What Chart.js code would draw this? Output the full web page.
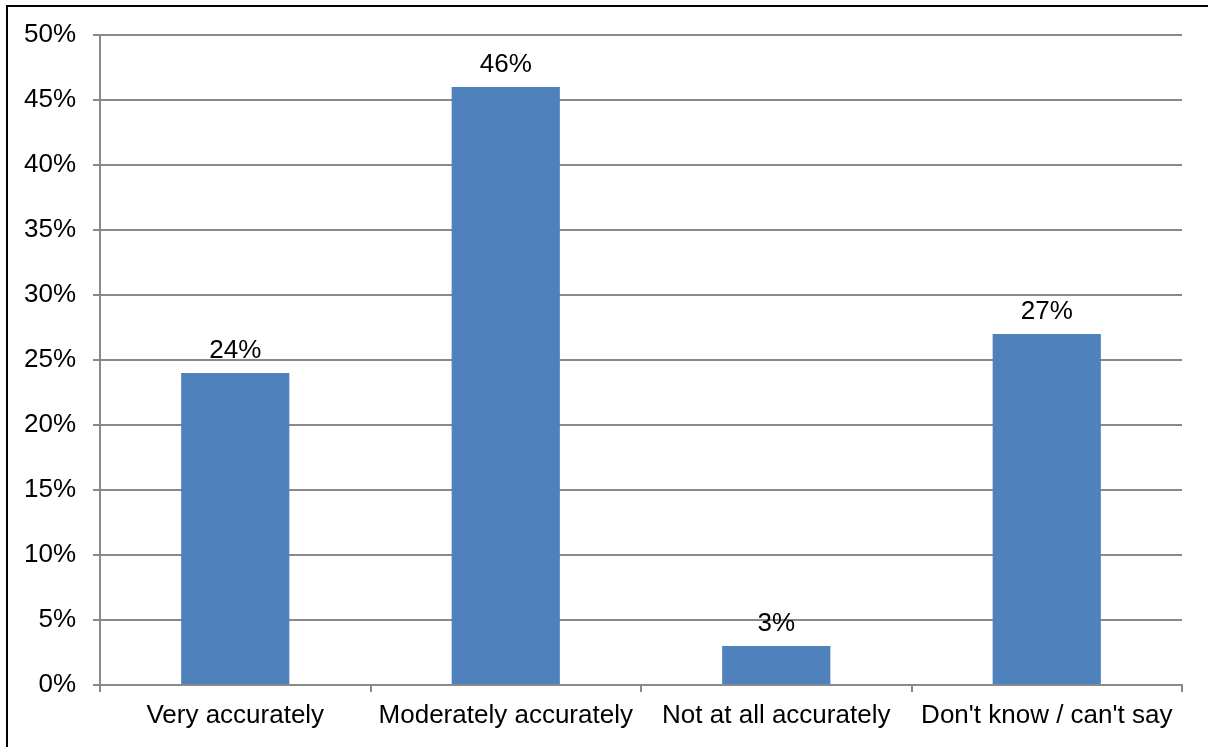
<!DOCTYPE html>
<html>
<head>
<meta charset="utf-8">
<script src="https://cdn.jsdelivr.net/npm/chart.js@4/dist/chart.umd.min.js"></script>
<style>
  html, body { margin: 0; padding: 0; background: #fff; overflow: hidden; }
  #wrap { position: relative; width: 1208px; height: 747px; }
  #frame {
    position: absolute; left: 6px; top: 5px; width: 1300px; height: 900px;
    border-left: 2px solid #000; border-top: 2px solid #000; pointer-events: none;
  }
  canvas { position: absolute; left: 0; top: 0; }
</style>
</head>
<body>
<div id="wrap">
  <canvas id="barChart" width="1208" height="747"></canvas>
  <div id="frame"></div>
</div>
<script>
const categories = ["Very accurately", "Moderately accurately", "Not at all accurately", "Don't know / can't say"];
const values = [24, 46, 3, 27];
const tickValues = [0, 5, 10, 15, 20, 25, 30, 35, 40, 45, 50];

const FONT = "'Liberation Sans', Arial, sans-serif";
const gridGray = "#898989";

// value labels above each bar
const barLabels = {
  id: "barLabels",
  afterDatasetsDraw(chart) {
    const ctx = chart.ctx;
    const meta = chart.getDatasetMeta(0);
    ctx.save();
    ctx.font = "26px " + FONT;
    ctx.fillStyle = "#000";
    ctx.textAlign = "center";
    ctx.textBaseline = "alphabetic";
    meta.data.forEach((bar, i) => {
      ctx.fillText(values[i] + "%", bar.x, bar.y - 15);
    });
    ctx.restore();
  },
};

const ctx = document.getElementById("barChart").getContext("2d");
new Chart(ctx, {
  type: "bar",
  data: {
    labels: categories,
    datasets: [
      {
        data: values,
        backgroundColor: "#4F81BD",
        borderWidth: 0,
        barPercentage: 0.4,
        categoryPercentage: 1.0,
      },
    ],
  },
  options: {
    responsive: false,
    animation: false,
    layout: { padding: { top: 35, right: 26, bottom: 0, left: 0 } },
    plugins: {
      legend: { display: false },
      tooltip: { enabled: false },
    },
    scales: {
      x: {
        afterFit: (scale) => { scale.height = 62; },
        grid: {
          offset: true,
          drawOnChartArea: false,
          drawTicks: true,
          tickLength: 7,
          color: gridGray,
          lineWidth: 2,
        },
        border: { color: gridGray, width: 2 },
        ticks: {
          color: "#000",
          font: { family: FONT, size: 26 },
          padding: 8,
          maxRotation: 0,
          autoSkip: false,
        },
      },
      y: {
        min: 0,
        max: 50,
        afterFit: (scale) => { scale.width = 100; },
        afterBuildTicks: (scale) => {
          scale.ticks = tickValues.map((v) => ({ value: v }));
        },
        grid: {
          color: gridGray,
          lineWidth: 2,
          tickLength: 7,
        },
        border: { color: gridGray, width: 2 },
        ticks: {
          color: "#000",
          font: { family: FONT, size: 26 },
          padding: 17,
          callback: (v) => v + "%",
        },
      },
    },
  },
  plugins: [barLabels],
});
</script>
</body>
</html>
